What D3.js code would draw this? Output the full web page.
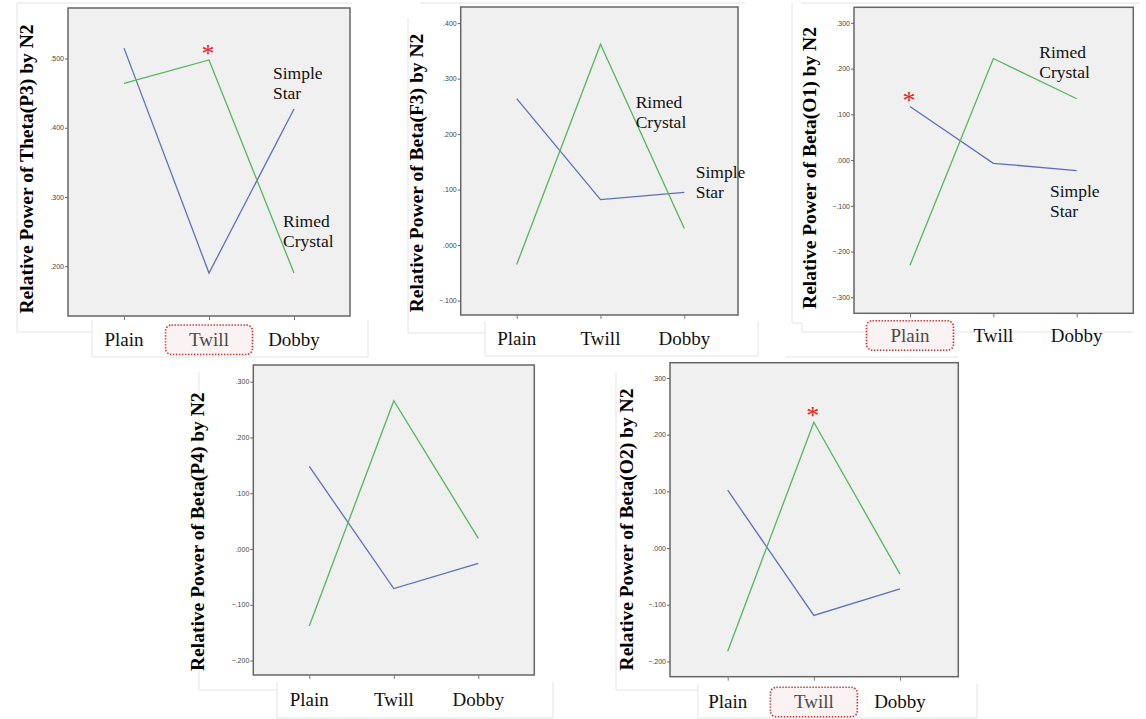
<!DOCTYPE html>
<html>
<head>
<meta charset="utf-8">
<script src="https://cdn.jsdelivr.net/npm/d3@7"></script>
<style>
  body { margin: 0; background: #fff; }
  svg { display: block; }
</style>
</head>
<body>
<div id="chart"></div>
<script>
// categories on every x axis
const categories = ["Plain", "Twill", "Dobby"];

// values (Simple Star = blue, Rimed Crystal = green)
const simpleStarThetaP3 = [0.515, 0.190, 0.427];
const rimedCrystalThetaP3 = [0.464, 0.498, 0.190];

const simpleStarBetaF3 = [0.264, 0.082, 0.095];
const rimedCrystalBetaF3 = [-0.035, 0.362, 0.030];

const simpleStarBetaO1 = [0.117, -0.007, -0.023];
const rimedCrystalBetaO1 = [-0.230, 0.222, 0.134];

const simpleStarBetaP4 = [0.148, -0.071, -0.026];
const rimedCrystalBetaP4 = [-0.138, 0.266, 0.019];

const simpleStarBetaO2 = [0.102, -0.119, -0.072];
const rimedCrystalBetaO2 = [-0.182, 0.222, -0.046];

// y tick values per panel
const ticksThetaP3 = [0.2, 0.3, 0.4, 0.5];
const ticksBetaF3 = [-0.1, 0.0, 0.1, 0.2, 0.3, 0.4];
const ticksBetaO1 = [-0.3, -0.2, -0.1, 0.0, 0.1, 0.2, 0.3];
const ticksBetaP4 = [-0.2, -0.1, 0.0, 0.1, 0.2, 0.3];
const ticksBetaO2 = [-0.2, -0.1, 0.0, 0.1, 0.2, 0.3];

const titles = [
  "Relative Power of Theta(P3) by N2",
  "Relative Power of Beta(F3) by N2",
  "Relative Power of Beta(O1) by N2",
  "Relative Power of Beta(P4) by N2",
  "Relative Power of Beta(O2) by N2"
];

const W = 1146, H = 719;
const blue = "#6070b8", green = "#55b65f";

const svg = d3.select("#chart").append("svg")
  .attr("width", W).attr("height", H);

// faint frame lines left over from the pasted screenshots
const frames = [
  "M17,332 V3 H352 M17,332 H92 M92,320 V357 H368 V320",
  "M408,18 V333 H485 M420,3 H745 M485,321 V356 H758 V321",
  "M792,3 V323 H802 V332 H1133 M801,3 H1140 M785,357 H958",
  "M199,372 V690 H277 M277,682 V718 H553 V682",
  "M616,372 V690 H698 M698,684 V718 H977 V684"
];
svg.selectAll("path.frame").data(frames).join("path")
  .attr("class", "frame")
  .attr("d", d => d)
  .attr("fill", "none")
  .attr("stroke", "#e4e4e4")
  .attr("stroke-width", 1);

const panels = [
  { simple: simpleStarThetaP3, rimed: rimedCrystalThetaP3, ticks: ticksThetaP3, title: titles[0],
    box: [68, 8, 350, 316], domain: [0.128, 0.573], xr: [124, 294], labelY: 346, titleX: 33, titleY: 169,
    star: { i: 1, dy: -12 }, highlight: 1,
    simpleLabel: [273, 79], rimedLabel: [283, 226.7] },
  { simple: simpleStarBetaF3, rimed: rimedCrystalBetaF3, ticks: ticksBetaF3, title: titles[1],
    box: [460.7, 7, 738, 315], domain: [-0.126, 0.429], xr: [516.7, 684.3], labelY: 345, titleX: 423, titleY: 173,
    simpleLabel: [695.7, 178.3], rimedLabel: [635.7, 108.3] },
  { simple: simpleStarBetaO1, rimed: rimedCrystalBetaO1, ticks: ticksBetaO1, title: titles[2],
    box: [854, 7.3, 1133.3, 313.3], domain: [-0.335, 0.334], xr: [910, 1076.7], labelY: 341.7, titleX: 816, titleY: 168,
    star: { i: 0, dy: -12, series: "simple" }, highlight: 0,
    simpleLabel: [1050, 197.3], rimedLabel: [1039.3, 58.3] },
  { simple: simpleStarBetaP4, rimed: rimedCrystalBetaP4, ticks: ticksBetaP4, title: titles[3],
    box: [253.3, 365, 534.3, 675], domain: [-0.226, 0.330], xr: [309.3, 478.3], labelY: 706, titleX: 204, titleY: 531.7 },
  { simple: simpleStarBetaO2, rimed: rimedCrystalBetaO2, ticks: ticksBetaO2, title: titles[4],
    box: [670, 362.7, 958.3, 676.7], domain: [-0.227, 0.327], xr: [727.7, 900], labelY: 708.3, titleX: 633, titleY: 529.5,
    star: { i: 1, dy: -12 }, highlight: 1 }
];

const fmt = d => d3.format(".3f")(d).replace("0.", ".");

panels.forEach(p => {
  const [x0, y0, x1, y1] = p.box;
  const g = svg.append("g");

  const x = d3.scalePoint().domain(categories).range(p.xr);
  const y = d3.scaleLinear().domain(p.domain).range([y1, y0]);

  g.append("rect")
    .attr("x", x0).attr("y", y0)
    .attr("width", x1 - x0).attr("height", y1 - y0)
    .attr("fill", "#f0f0f0")
    .attr("stroke", "#666").attr("stroke-width", 1.5);

  // y axis
  const yAxis = g.append("g")
    .attr("transform", `translate(${x0},0)`)
    .call(d3.axisLeft(y).tickValues(p.ticks).tickFormat(fmt).tickSize(3).tickPadding(1));
  yAxis.select(".domain").remove();
  yAxis.selectAll(".tick line").attr("stroke", "#666");
  yAxis.selectAll(".tick text")
    .attr("fill", "#444")
    .style("font-family", "'Liberation Sans', Arial, sans-serif")
    .style("font-size", "7px");

  // x axis ticks
  const xAxis = g.append("g")
    .attr("transform", `translate(0,${y1})`)
    .call(d3.axisBottom(x).tickSize(4).tickFormat(""));
  xAxis.select(".domain").remove();
  xAxis.selectAll(".tick line").attr("stroke", "#777");

  // highlighted category box
  if (p.highlight !== undefined) {
    const cx = x(categories[p.highlight]);
    g.append("rect")
      .attr("x", cx - 43.5).attr("y", p.labelY - 21)
      .attr("width", 87).attr("height", 29.5)
      .attr("rx", 6)
      .attr("fill", "#fbf3f3")
      .attr("stroke", "#d42a2a")
      .attr("stroke-width", 1.6)
      .attr("stroke-dasharray", "1.4,1.6");
  }

  // category labels
  g.selectAll("text.cat").data(categories).join("text")
    .attr("class", "cat")
    .attr("x", d => x(d))
    .attr("y", p.labelY)
    .attr("text-anchor", "middle")
    .attr("fill", (d, i) => i === p.highlight ? "#4a4a4a" : "#111")
    .style("font-family", "'Liberation Serif', 'Times New Roman', serif")
    .style("font-size", "19px")
    .text(d => d);

  // y title
  g.append("text")
    .attr("transform", `translate(${p.titleX},${p.titleY}) rotate(-90)`)
    .attr("text-anchor", "middle")
    .attr("fill", "#000")
    .style("font-family", "'Liberation Serif', 'Times New Roman', serif")
    .style("font-weight", "bold")
    .style("font-size", "19.5px")
    .text(p.title);

  // lines
  const line = d3.line().x((d, i) => x(categories[i])).y(d => y(d));
  g.append("path").datum(p.simple)
    .attr("d", line).attr("fill", "none")
    .attr("stroke", blue).attr("stroke-width", 1.3);
  g.append("path").datum(p.rimed)
    .attr("d", line).attr("fill", "none")
    .attr("stroke", green).attr("stroke-width", 1.3);

  // significance star
  if (p.star) {
    const s = p.star;
    const v = s.series === "simple" ? p.simple[s.i] : d3.max([p.simple[s.i], p.rimed[s.i]]);
    g.append("text")
      .attr("x", x(categories[s.i]) - 1)
      .attr("y", y(v) + s.dy + 14)
      .attr("text-anchor", "middle")
      .attr("fill", "#e02424")
      .style("font-family", "'Liberation Serif', 'Times New Roman', serif")
      .style("font-size", "26px")
      .text("*");
  }

  // series labels
  const lab = (pos, lines) => {
    const t = g.append("text")
      .attr("fill", "#111")
      .style("font-family", "'Liberation Serif', 'Times New Roman', serif")
      .style("font-size", "17.5px");
    lines.forEach((l, i) => {
      t.append("tspan").attr("x", pos[0]).attr("y", pos[1] + i * 20).text(l);
    });
  };
  if (p.simpleLabel) lab(p.simpleLabel, ["Simple", "Star"]);
  if (p.rimedLabel) lab(p.rimedLabel, ["Rimed", "Crystal"]);
});
</script>
</body>
</html>
